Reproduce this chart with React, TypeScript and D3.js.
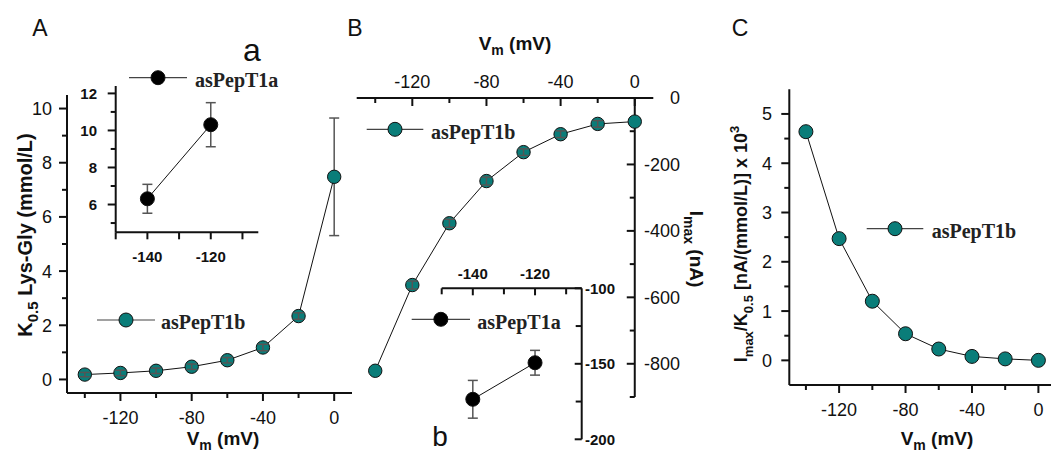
import React from "react";
import * as d3 from "d3";

// ---------- data ----------
const vmMain = [-140, -120, -100, -80, -60, -40, -20, 0];
const k05B = [0.18, 0.24, 0.32, 0.47, 0.71, 1.18, 2.34, 7.48];
const k05BErr = [0.08, 0.1, 0.1, 0.1, 0.1, 0.12, 0.12, 2.17];
const vmInset = [-140, -120];
const k05A = [6.31, 10.31];
const k05AErr = [0.78, 1.19];
const imaxB = [-821, -563, -377, -250, -163, -109, -78, -71];
const imaxBErr = [0, 12, 12, 12, 10, 10, 10, 0];
const imaxA = [-173.5, -149.3];
const imaxAErr = [12.5, 8.2];
const ratioB = [4.64, 2.47, 1.2, 0.54, 0.23, 0.08, 0.03, 0.0];

const xMajorMain = [-120, -80, -40, 0];
const xMinorMain = [-140, -100, -60, -20];
const yMajorA = [0, 2, 4, 6, 8, 10];
const yMinorA = [1, 3, 5, 7, 9];
const xMajorInset = [-140, -120];
const xMinorInset = [-150, -130, -110];
const yMajorInsetA = [6, 8, 10, 12];
const yMinorInsetA = [5, 7, 9, 11];
const yMajorB = [0, -200, -400, -600, -800];
const yMinorB = [-100, -300, -500, -700, -900];
const yMajorInsetB = [-100, -150, -200];
const yMinorInsetB = [-125, -175];
const yMajorC = [0, 1, 2, 3, 4, 5];
const yMinorC = [0.5, 1.5, 2.5, 3.5, 4.5];

const seriesNameA = "asPepT1a";
const seriesNameB = "asPepT1b";

// ---------- styles ----------
const TEAL = "#0a7d79";
const SANS = "'Liberation Sans', Arial, sans-serif";
const SERIF = "'Liberation Serif', 'Times New Roman', serif";
const INK = "#111";
const ERR = "#555";

type Scale = d3.ScaleLinear<number, number>;

function XAxis(p: {
  scale: Scale; y: number; major: number[]; minor: number[]; dir: number;
  labelY: number; fs: number; bold?: boolean; majLen?: number; minLen?: number;
}) {
  const [r0, r1] = p.scale.range();
  const ml = p.majLen ?? 8, nl = p.minLen ?? 5;
  return (
    <g>
      <line x1={r0} x2={r1} y1={p.y} y2={p.y} stroke={INK} strokeWidth={2} />
      {p.major.map((v) => (
        <line key={"M" + v} x1={p.scale(v)} x2={p.scale(v)} y1={p.y} y2={p.y + p.dir * ml} stroke={INK} strokeWidth={2} />
      ))}
      {p.minor.map((v) => (
        <line key={"m" + v} x1={p.scale(v)} x2={p.scale(v)} y1={p.y} y2={p.y + p.dir * nl} stroke={INK} strokeWidth={2} />
      ))}
      {p.major.map((v) => (
        <text key={"t" + v} x={p.scale(v)} y={p.labelY} dy="0.36em" textAnchor="middle"
          fontFamily={SANS} fontSize={p.fs} fontWeight={p.bold ? "bold" : "normal"} fill={INK}>
          {String(v)}
        </text>
      ))}
    </g>
  );
}

function YAxis(p: {
  scale: Scale; x: number; major: number[]; minor: number[]; dir: number;
  labelX: number; anchor: string; fs: number; bold?: boolean; majLen?: number; minLen?: number;
}) {
  const [r0, r1] = p.scale.range();
  const ml = p.majLen ?? 8, nl = p.minLen ?? 5;
  return (
    <g>
      <line x1={p.x} x2={p.x} y1={r0} y2={r1} stroke={INK} strokeWidth={2} />
      {p.major.map((v) => (
        <line key={"M" + v} x1={p.x} x2={p.x + p.dir * ml} y1={p.scale(v)} y2={p.scale(v)} stroke={INK} strokeWidth={2} />
      ))}
      {p.minor.map((v) => (
        <line key={"m" + v} x1={p.x} x2={p.x + p.dir * nl} y1={p.scale(v)} y2={p.scale(v)} stroke={INK} strokeWidth={2} />
      ))}
      {p.major.map((v) => (
        <text key={"t" + v} x={p.labelX} y={p.scale(v)} dy="0.36em" textAnchor={p.anchor}
          fontFamily={SANS} fontSize={p.fs} fontWeight={p.bold ? "bold" : "normal"} fill={INK}>
          {String(v)}
        </text>
      ))}
    </g>
  );
}

function Series(p: {
  xs: number[]; ys: number[]; errs?: number[]; x: Scale; y: Scale; fill: string; r: number;
}) {
  const pts = p.xs.map((v, i) => [p.x(v), p.y(p.ys[i])] as [number, number]);
  const path = d3.line()(pts) || "";
  const errEl = (i: number) => {
    const e = p.errs ? p.errs[i] : 0;
    if (!e) return null;
    const cx = pts[i][0];
    const top = p.y(p.ys[i] + e), bot = p.y(p.ys[i] - e);
    const cw = 5;
    return (
      <g key={"e" + i} stroke={ERR} strokeWidth={1.5}>
        <line x1={cx} x2={cx} y1={top} y2={bot} />
        <line x1={cx - cw} x2={cx + cw} y1={top} y2={top} />
        <line x1={cx - cw} x2={cx + cw} y1={bot} y2={bot} />
      </g>
    );
  };
  const errPx = (i: number) => (p.errs ? Math.abs(p.y(p.ys[i]) - p.y(p.ys[i] + p.errs[i])) : 0);
  return (
    <g>
      <path d={path} fill="none" stroke={INK} strokeWidth={1} />
      {pts.map((_, i) => (errPx(i) >= p.r ? errEl(i) : null))}
      {pts.map((pt, i) => (
        <circle key={"c" + i} cx={pt[0]} cy={pt[1]} r={p.r} fill={p.fill} stroke={INK} strokeWidth={1} />
      ))}
      {pts.map((_, i) => (errPx(i) < p.r ? errEl(i) : null))}
    </g>
  );
}

function Legend(p: { x0: number; x1: number; y: number; fill: string; label: string; tx: number }) {
  const cx = (p.x0 + p.x1) / 2;
  return (
    <g>
      <line x1={p.x0} x2={p.x1} y1={p.y} y2={p.y} stroke="#444" strokeWidth={1.2} />
      <circle cx={cx} cy={p.y} r={7} fill={p.fill} stroke={INK} strokeWidth={1} />
      <text x={p.tx} y={p.y + 2} dy="0.36em" fontFamily={SERIF} fontWeight="bold" fontSize={20} fill="#222">
        {p.label}
      </text>
    </g>
  );
}

function VmTitle(p: { x: number; y: number }) {
  return (
    <text x={p.x} y={p.y} textAnchor="middle" fontFamily={SANS} fontWeight="bold" fontSize={19} fill={INK}>
      V<tspan dy={5} fontSize={14}>m</tspan>
      <tspan dy={-5}> (mV)</tspan>
    </text>
  );
}

export default function App() {
  // Panel A
  const xA = d3.scaleLinear().domain([-150, 10]).range([67, 352]);
  const yA = d3.scaleLinear().domain([-0.5, 10.5]).range([393, 95]);
  const xa = d3.scaleLinear().domain([-150, -105]).range([115.7, 258.3]);
  const ya = d3.scaleLinear().domain([4.5, 12.4]).range([232.3, 86]);
  // Panel B
  const xB = d3.scaleLinear().domain([-150, 10]).range([356.7, 653.3]);
  const yB = d3.scaleLinear().domain([0, -900]).range([98, 397]);
  const xb = d3.scaleLinear().domain([-150, -105]).range([441.7, 581.7]);
  const yb = d3.scaleLinear().domain([-100, -200]).range([288.3, 439.3]);
  // Panel C
  const xC = d3.scaleLinear().domain([-150, 10]).range([789.3, 1055]);
  const yC = d3.scaleLinear().domain([-0.5, 5.5]).range([385, 89.3]);

  return (
    <svg width={1051} height={452} style={{ position: "absolute", left: 0, top: 0, background: "#fff" }}>
      <rect x={0} y={0} width={1051} height={452} fill="#fff" />

      {/* ===== Panel A ===== */}
      <text x={40} y={36} textAnchor="middle" fontFamily={SANS} fontSize={23} fill={INK}>A</text>
      <XAxis scale={xA} y={393} major={xMajorMain} minor={xMinorMain} dir={1} labelY={418} fs={18} />
      <YAxis scale={yA} x={67} major={yMajorA} minor={yMinorA} dir={-1} labelX={52} anchor="end" fs={18} />
      <Series xs={vmMain} ys={k05B} errs={k05BErr} x={xA} y={yA} fill={TEAL} r={6.7} />
      <Legend x0={97} x1={155} y={320} fill={TEAL} label={seriesNameB} tx={161} />
      <VmTitle x={223} y={445} />
      <text transform="translate(32,235) rotate(-90)" textAnchor="middle" fontFamily={SANS} fontWeight="bold" fontSize={20} fill={INK}>
        K<tspan dy={6} fontSize={15}>0.5</tspan>
        <tspan dy={-6}> Lys-Gly (mmol/L)</tspan>
      </text>

      {/* inset a */}
      <text x={252} y={61} textAnchor="middle" fontFamily={SANS} fontSize={32} fill={INK}>a</text>
      <XAxis scale={xa} y={232.3} major={xMajorInset} minor={xMinorInset} dir={1} labelY={256.7} fs={15} bold majLen={7} minLen={7} />
      <YAxis scale={ya} x={115.7} major={yMajorInsetA} minor={yMinorInsetA} dir={-1} labelX={97} anchor="end" fs={15} bold majLen={8} minLen={5} />
      <Series xs={vmInset} ys={k05A} errs={k05AErr} x={xa} y={ya} fill="#000" r={7} />
      <Legend x0={129} x1={187} y={77.7} fill="#000" label={seriesNameA} tx={195} />

      {/* ===== Panel B ===== */}
      <text x={355} y={36} textAnchor="middle" fontFamily={SANS} fontSize={23} fill={INK}>B</text>
      <XAxis scale={xB} y={98} major={xMajorMain} minor={xMinorMain} dir={1} labelY={82} fs={18} />
      <YAxis scale={yB} x={xB(0)} major={yMajorB} minor={yMinorB} dir={-1} labelX={680} anchor="end" fs={18} />
      <Series xs={vmMain} ys={imaxB} errs={imaxBErr} x={xB} y={yB} fill={TEAL} r={6.7} />
      <Legend x0={366.7} x1={423.3} y={129.3} fill={TEAL} label={seriesNameB} tx={431} />
      <VmTitle x={515} y={50} />
      <text transform="translate(690,249) rotate(90)" textAnchor="middle" fontFamily={SANS} fontWeight="bold" fontSize={19} fill={INK}>
        I<tspan dy={6} fontSize={14}>max</tspan>
        <tspan dy={-6}> (nA)</tspan>
      </text>

      {/* inset b */}
      <text x={440} y={446} textAnchor="middle" fontFamily={SANS} fontSize={28} fill={INK}>b</text>
      <XAxis scale={xb} y={288.3} major={xMajorInset} minor={xMinorInset} dir={1} labelY={273.3} fs={15} bold majLen={7} minLen={6} />
      <YAxis scale={yb} x={581.7} major={yMajorInsetB} minor={yMinorInsetB} dir={-1} labelX={585} anchor="start" fs={15} bold majLen={7} minLen={6} />
      <Series xs={vmInset} ys={imaxA} errs={imaxAErr} x={xb} y={yb} fill="#000" r={7} />
      <Legend x0={411.7} x1={470} y={319.3} fill="#000" label={seriesNameA} tx={477.3} />

      {/* ===== Panel C ===== */}
      <text x={740} y={36} textAnchor="middle" fontFamily={SANS} fontSize={23} fill={INK}>C</text>
      <XAxis scale={xC} y={385} major={xMajorMain} minor={xMinorMain} dir={1} labelY={410} fs={18} />
      <YAxis scale={yC} x={789.3} major={yMajorC} minor={yMinorC} dir={-1} labelX={772} anchor="end" fs={18} />
      <Series xs={vmMain} ys={ratioB} x={xC} y={yC} fill={TEAL} r={7} />
      <Legend x0={866.7} x1={923.3} y={228.7} fill={TEAL} label={seriesNameB} tx={931.7} />
      <VmTitle x={937} y={445} />
      <text transform="translate(747,244) rotate(-90)" textAnchor="middle" fontFamily={SANS} fontWeight="bold" fontSize={18} fill={INK}>
        I<tspan dy={6} fontSize={13}>max</tspan>
        <tspan dy={-6}>/K</tspan>
        <tspan dy={6} fontSize={13}>0.5</tspan>
        <tspan dy={-6}> [nA/(mmol/L)] x 10</tspan>
        <tspan dy={-8} fontSize={13}>3</tspan>
      </text>
    </svg>
  );
}
